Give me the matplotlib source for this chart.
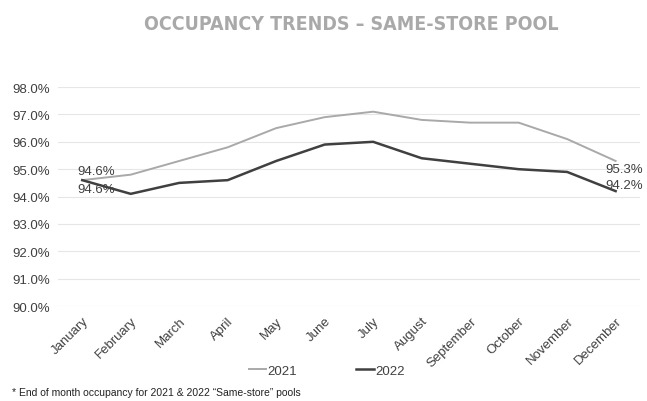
import matplotlib.pyplot as plt
from matplotlib.lines import Line2D

months = ['January', 'February', 'March', 'April', 'May', 'June', 'July',
          'August', 'September', 'October', 'November', 'December']
occ_2021 = [94.6, 94.8, 95.3, 95.8, 96.5, 96.9, 97.1, 96.8, 96.7, 96.7, 96.1, 95.3]
occ_2022 = [94.6, 94.1, 94.5, 94.6, 95.3, 95.9, 96.0, 95.4, 95.2, 95.0, 94.9, 94.2]
y_ticks = [90, 91, 92, 93, 94, 95, 96, 97, 98]

LIGHT = '#a9a9a9'
DARK = '#404040'
TEXT = '#404040'

plt.rcParams['font.family'] = ['Liberation Sans', 'DejaVu Sans']

fig = plt.figure(figsize=(6.47, 4.02), dpi=100)
ax = fig.add_axes([0.0896, 0.236, 0.8994, 0.545])

x = list(range(len(months)))
ax.plot(x, occ_2021, color=LIGHT, lw=1.4)
ax.plot(x, occ_2022, color=DARK, lw=1.8)

ax.set_xlim(-0.5, len(months) - 0.5)
ax.set_ylim(90, 98)
ax.set_yticks(y_ticks)
ax.set_yticklabels([f'{v:.1f}%' for v in y_ticks], fontsize=9.5, color=TEXT)
ax.set_xticks(x)
ax.set_xticklabels(months, rotation=45, ha='right', rotation_mode='anchor',
                   fontsize=9.5, color=TEXT)
ax.tick_params(length=0, pad=6)
ax.grid(axis='y', color='#e6e6e6', lw=0.8)
for s in ax.spines.values():
    s.set_visible(False)

# end point labels
lbl = dict(textcoords='offset points', va='center', fontsize=9.5, color=TEXT)
ax.annotate(f'{occ_2021[0]:.1f}%', (0, occ_2021[0]), xytext=(-3.6, 6.5), ha='left', **lbl)
ax.annotate(f'{occ_2022[0]:.1f}%', (0, occ_2022[0]), xytext=(-3.6, -6.5), ha='left', **lbl)
# right side labels: anchored to the figure's right edge so they stay inside
ax.annotate(f'{occ_2021[-1]:.1f}%', (11, occ_2021[-1]), xytext=(20, -6), ha='right', **lbl)
ax.annotate(f'{occ_2022[-1]:.1f}%', (11, occ_2022[-1]), xytext=(20, 4.3), ha='right', **lbl)

fig.text(0.543, 0.94, 'OCCUPANCY TRENDS – SAME-STORE POOL', ha='center', va='center',
         fontsize=14, fontweight='bold', fontstretch='condensed', color=LIGHT,
         family=['DejaVu Sans'])

handles = [Line2D([], [], color=LIGHT, lw=1.4), Line2D([], [], color=DARK, lw=1.8)]
fig.legend(handles, ['2021', '2022'], loc='center', bbox_to_anchor=(0.505, 0.075),
           ncol=2, frameon=False, fontsize=9.5, handlelength=1.3, handletextpad=0.1,
           columnspacing=4.5, labelcolor=TEXT)

fig.text(0.018, 0.022, '* End of month occupancy for 2021 & 2022 \u201cSame-store\u201d pools',
         fontsize=7.5, color='#222222', ha='left', va='center')

fig.savefig('out.png', dpi=100)
